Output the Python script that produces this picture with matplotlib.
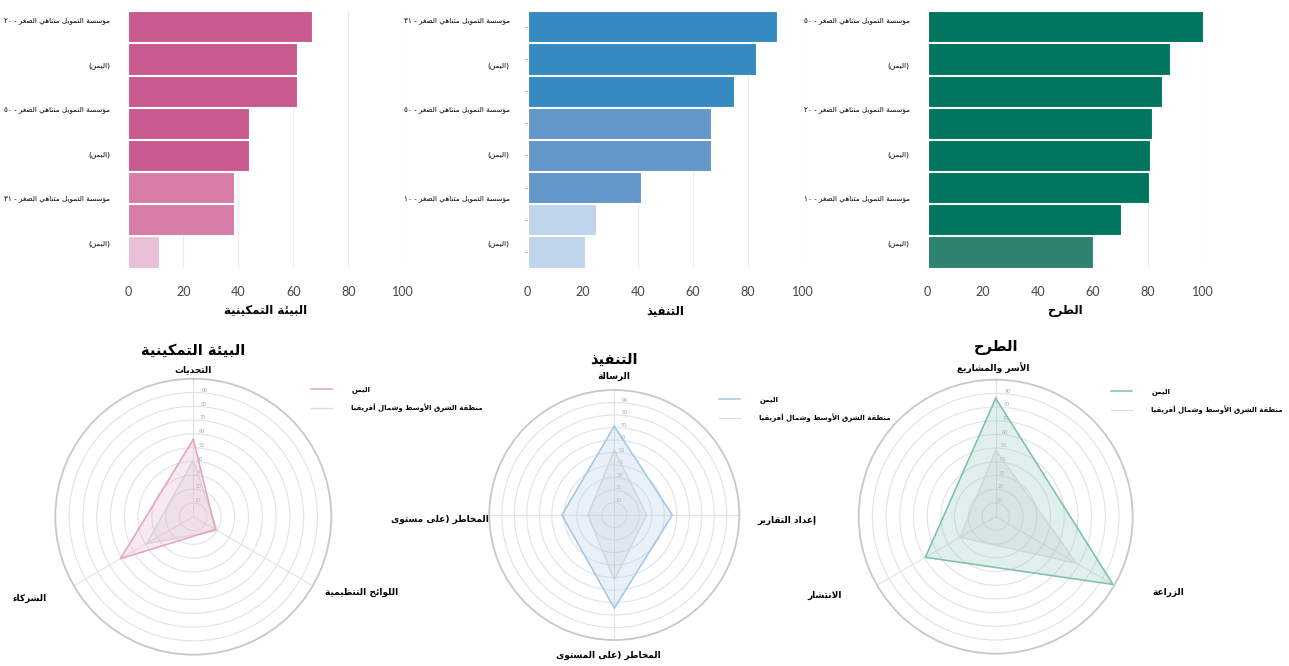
import re
import numpy as np
import matplotlib
matplotlib.use("Agg")
import matplotlib.pyplot as plt
from matplotlib.lines import Line2D

plt.rcParams['font.family'] = ['DejaVu Sans']

# --- Arabic shaping: contextual forms + right-to-left ordering -------------
_JOIN = {
    'ء': (0xFE80, 1), 'آ': (0xFE81, 2), 'أ': (0xFE83, 2), 'ؤ': (0xFE85, 2),
    'إ': (0xFE87, 2), 'ئ': (0xFE89, 4), 'ا': (0xFE8D, 2), 'ب': (0xFE8F, 4),
    'ة': (0xFE93, 2), 'ت': (0xFE95, 4), 'ث': (0xFE99, 4), 'ج': (0xFE9D, 4),
    'ح': (0xFEA1, 4), 'خ': (0xFEA5, 4), 'د': (0xFEA9, 2), 'ذ': (0xFEAB, 2),
    'ر': (0xFEAD, 2), 'ز': (0xFEAF, 2), 'س': (0xFEB1, 4), 'ش': (0xFEB5, 4),
    'ص': (0xFEB9, 4), 'ض': (0xFEBD, 4), 'ط': (0xFEC1, 4), 'ظ': (0xFEC5, 4),
    'ع': (0xFEC9, 4), 'غ': (0xFECD, 4), 'ف': (0xFED1, 4), 'ق': (0xFED5, 4),
    'ك': (0xFED9, 4), 'ل': (0xFEDD, 4), 'م': (0xFEE1, 4), 'ن': (0xFEE5, 4),
    'ه': (0xFEE9, 4), 'و': (0xFEED, 2), 'ى': (0xFEEF, 2), 'ي': (0xFEF1, 4),
}
_LAM_ALEF = {'آ': 0xFEF5, 'أ': 0xFEF7, 'إ': 0xFEF9, 'ا': 0xFEFB}
_MIRROR = str.maketrans('()', ')(')


def _shape(s):
    out = []
    prev_joins = False
    i = 0
    while i < len(s):
        c = s[i]
        if c not in _JOIN:
            out.append(c)
            prev_joins = False
            i += 1
            continue
        nxt = s[i + 1] if i + 1 < len(s) else ''
        if c == 'ل' and nxt in _LAM_ALEF:
            out.append(chr(_LAM_ALEF[nxt] + (1 if prev_joins else 0)))
            prev_joins = False
            i += 2
            continue
        base, k = _JOIN[c]
        to_next = k == 4 and nxt in _JOIN
        if k == 1:
            form = 0
        elif prev_joins and to_next:
            form = 3
        elif prev_joins:
            form = 1
        elif to_next:
            form = 2
        else:
            form = 0
        out.append(chr(base + form))
        prev_joins = k == 4
        i += 1
    return ''.join(out)


def ar(text):
    lines = []
    for line in text.split('\n'):
        runs = re.findall(r'[0-9\u0660-\u0669]+|[^0-9\u0660-\u0669]+', _shape(line))
        vis = [r if r[0].isdigit() else r[::-1].translate(_MIRROR) for r in reversed(runs)]
        lines.append(''.join(vis))
    return '\n'.join(lines)


# --- data -------------------------------------------------------------------
pillars = ['البيئة التمكينية', 'التنفيذ', 'الطرح']

inst = 'مؤسسة التمويل متناهي الصغر - '
bar_labels = [
    [inst + '٢٠', '(اليمن)', inst + '٥٠', '(اليمن)', inst + '٣١', '(اليمن)'],
    [inst + '٣١', '(اليمن)', inst + '٥٠', '(اليمن)', inst + '١٠', '(اليمن)'],
    [inst + '٥٠', '(اليمن)', inst + '٢٠', '(اليمن)', inst + '١٠', '(اليمن)'],
]

bar_values = [
    [66.7, 61.2, 61.5, 44.0, 44.0, 38.5, 38.5, 11.2],
    [90.8, 83.1, 74.9, 66.6, 66.6, 41.1, 24.7, 20.7],
    [100.0, 88.2, 85.3, 81.7, 80.8, 80.3, 70.2, 60.1],
]

bar_colors = [
    ['#C95A8F'] * 5 + ['#D67CA7'] * 2 + ['#ECC1D7'],
    ['#348AC1'] * 3 + ['#6396C9'] * 3 + ['#BFD5EC'] * 2,
    ['#00755F'] * 7 + ['#2D8270'],
]

radar_axes = [
    ['التحديات', 'الشركاء', 'اللوائح التنظيمية'],
    ['الرسالة', 'المخاطر (على مستوى', 'المخاطر (على المستوى', 'إعداد التقارير'],
    ['الأسر والمشاريع', 'الانتشار', 'الزراعة'],
]
yemen_scores = [
    [56, 61, 18.5],
    [71, 42, 74.6, 46.4],
    [86.4, 59.3, 98.9],
]
mena_scores = [
    [41, 39, 20],
    [52, 21, 52, 26],
    [48.7, 30, 68],
]
series_names = ['اليمن', 'منطقة الشرق الأوسط وشمال أفريقيا']
radar_line = ['#E6A3C3', '#A3C8E6', '#7DBFB1']
radar_fill = ['#E9B5CD', '#B5D3EC', '#98CCBF']

# --- layout (pixels) ----------------------------------------------------------
W, H = 1289, 666
bar_left = [128.3, 527.7, 927.7]
bar_w = 275
bar_top, bar_bot = 10.7, 268
radar_c = [(193.3, 516.7), (614.3, 515), (995.7, 516.7)]
radar_r = [138, 125, 137]
title_y = [1.104, 1.124, 1.119]
label_xy = [
    [(0.5, 1.033), (-0.092, 0.205), (1.111, 0.227)],
    [(0.5, 1.053), (-0.197, 0.484), (0.475, -0.06), (1.19, 0.48)],
    [(0.49, 1.046), (-0.123, 0.214), (1.129, 0.222)],
]
legend_xy = [(311, 386), (719, 396), (1111, 388)]

fig = plt.figure(figsize=(W / 100, H / 100), dpi=100)

# --- horizontal bar panels ----------------------------------------------------
for k in range(3):
    ax = fig.add_axes([bar_left[k] / W, 1 - bar_bot / H, bar_w / W, (bar_bot - bar_top) / H])
    vals = bar_values[k]
    pos = np.arange(len(vals))
    ax.barh(pos, vals, height=0.97, color=bar_colors[k], edgecolor='white', linewidth=0.8, zorder=2)
    ax.set_xlim(0, 100)
    ax.set_ylim(len(vals) - 0.5, -0.5)
    ax.set_xticks(np.arange(0, 101, 20))
    ax.tick_params(axis='x', length=0, pad=13, labelsize=9, labelcolor='#444444')
    for t in ax.get_xticklabels():
        t.set_family('Lato')
    ax.set_yticks(np.linspace(-0.21, 6.71, len(bar_labels[k])))
    ax.set_yticklabels([ar(s) for s in bar_labels[k]], fontsize=5.2)
    ax.tick_params(axis='y', length=0, pad=13)
    ax.grid(axis='x', color='#EBEBEB', linewidth=0.8, zorder=0)
    for s in ax.spines.values():
        s.set_visible(False)
    if k == 1:
        ax.set_yticks(pos, minor=True)
        ax.tick_params(axis='y', which='minor', length=3, color='#BBBBBB', left=True)
    ax.set_xlabel(ar(pillars[k]), fontsize=8.5, fontweight='bold', labelpad=4)

# --- radar panels -------------------------------------------------------------
for k in range(3):
    cx, cy = radar_c[k]
    R = radar_r[k]
    ax = fig.add_axes([(cx - R) / W, 1 - (cy + R) / H, 2 * R / W, 2 * R / H], projection='polar')
    n = len(radar_axes[k])
    theta = np.arange(n) * 2 * np.pi / n
    ax.set_theta_offset(np.pi / 2)
    ax.set_ylim(0, 100)
    ax.set_rticks(np.arange(10, 100, 10))
    ax.set_yticklabels([str(v) for v in range(10, 100, 10)], fontsize=3.5, color='#AAAAAA')
    ax.set_rlabel_position(-4)
    ax.set_thetagrids(np.degrees(theta), labels=[''] * n)
    ax.grid(color='#E2E2E2', linewidth=0.8)
    ax.spines['polar'].set_color('#C8C8C8')
    ax.spines['polar'].set_linewidth(1.3)

    tt = np.append(theta, theta[0])
    mena = np.append(mena_scores[k], mena_scores[k][0])
    yem = np.append(yemen_scores[k], yemen_scores[k][0])
    ax.fill(tt, mena, color='#BBBBBB', alpha=0.18, zorder=2)
    ax.plot(tt, mena, color='#D5D5D5', linewidth=0.9, zorder=3)
    ax.fill(tt, yem, color=radar_fill[k], alpha=0.3, zorder=2)
    ax.plot(tt, yem, color=radar_line[k], linewidth=1.1, zorder=4)

    for name, (lx, ly) in zip(radar_axes[k], label_xy[k]):
        ax.text(lx, ly, ar(name), transform=ax.transAxes, ha='center', va='center',
                fontsize=6.5, fontweight='bold', clip_on=False)
    ax.text(0.5, title_y[k], ar(pillars[k]), transform=ax.transAxes, ha='center',
            va='center', fontsize=10.5, fontweight='bold')

    handles = [Line2D([], [], color=radar_line[k], linewidth=1.1),
               Line2D([], [], color='#DDDDDD', linewidth=0.9)]
    lx, ly = legend_xy[k]
    fig.legend(handles, [ar(s) for s in series_names], loc='upper left',
               bbox_to_anchor=(lx / W, 1 - ly / H), frameon=False,
               prop={'size': 5, 'weight': 'bold'}, handlelength=3,
               handletextpad=2.8, labelspacing=1.5, borderaxespad=0, borderpad=0)

fig.savefig('out.png', dpi=100, facecolor='white')
